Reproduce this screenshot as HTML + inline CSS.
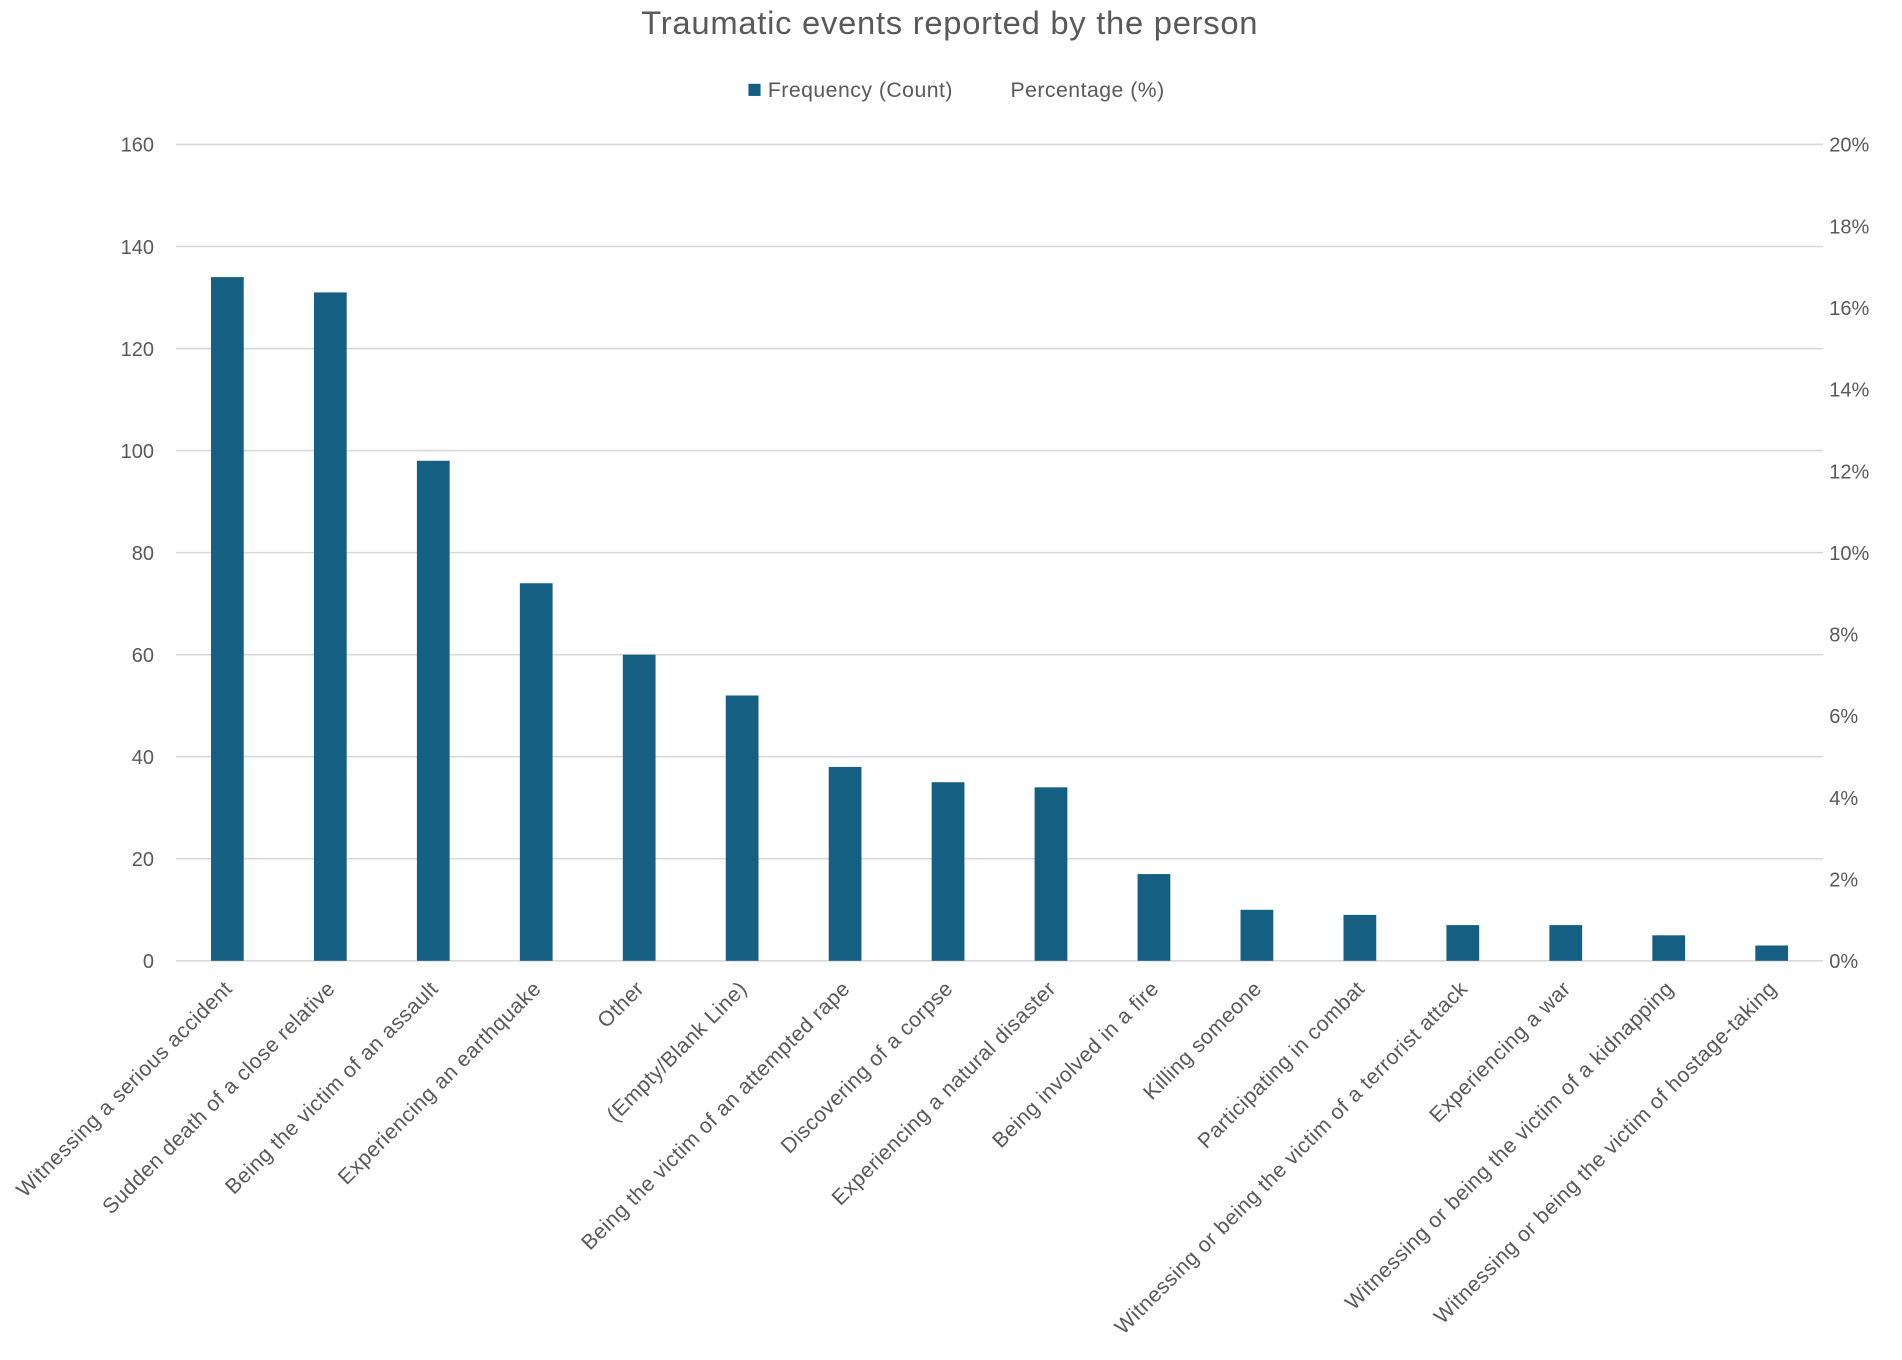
<!DOCTYPE html>
<html><head><meta charset="utf-8"><style>
html,body{margin:0;padding:0;background:#fff;}
svg{display:block;font-family:"Liberation Sans",Arial,sans-serif;}
</style></head><body>
<svg id="chart" width="1902" height="1360" viewBox="0 0 1568 1121" xmlns="http://www.w3.org/2000/svg">
<rect width="1568" height="1121" fill="#fff"/>
<text x="783" y="28" text-anchor="middle" font-size="27" letter-spacing="0.6" fill="#595959">Traumatic events reported by the person</text>
<g>
<rect x="617" y="69" width="10" height="10" fill="#156082"/>
<text x="633" y="80" font-size="17.5" letter-spacing="0.4" fill="#595959">Frequency (Count)</text>
<text x="833" y="80" font-size="17.5" letter-spacing="0.4" fill="#595959">Percentage (%)</text>
</g>
<g id="grid"></g><g id="bars"></g><g id="labels"></g>
</svg>
<script>
const categories=["Witnessing a serious accident","Sudden death of a close relative","Being the victim of an assault","Experiencing an earthquake","Other","(Empty/Blank Line)","Being the victim of an attempted rape","Discovering of a corpse","Experiencing a natural disaster","Being involved in a fire","Killing someone","Participating in combat","Witnessing or being the victim of a terrorist attack","Experiencing a war","Witnessing or being the victim of a kidnapping","Witnessing or being the victim of hostage-taking"];
const frequency=[134,131,98,74,60,52,38,35,34,17,10,9,7,7,5,3];
const leftTicks=[0,20,40,60,80,100,120,140,160];
const rightTicks=["0%","2%","4%","6%","8%","10%","12%","14%","16%","18%","20%"];
const NS="http://www.w3.org/2000/svg";
const x0=145,x1=1503,yTop=119,yBot=792,yMax=160;
const y=v=>yBot-(v/yMax)*(yBot-yTop);
const band=(x1-x0)/categories.length;
const xc=i=>x0+band*(i+0.5);
function mk(t,a,p){const e=document.createElementNS(NS,t);for(const k in a)e.setAttribute(k,a[k]);p.appendChild(e);return e;}
const grid=document.getElementById('grid'),bars=document.getElementById('bars'),labels=document.getElementById('labels');
leftTicks.forEach(v=>{
  const l=mk('line',{x1:x0,x2:x1,y1:y(v),y2:y(v),stroke:'#d9d9d9','stroke-width':1.3},grid);
  
  
  const t=mk('text',{x:127,y:y(v)+6,'text-anchor':'end','font-size':16.5,fill:'#595959'},grid);
  t.textContent=v;
  
  
});
rightTicks.forEach((s,i)=>{
  const yy=yBot-i/(rightTicks.length-1)*(yBot-yTop);
  const t=mk('text',{x:1508,y:yy+6,'font-size':16.5,fill:'#595959'},grid);
  t.textContent=s;
  
  
});
frequency.forEach((v,i)=>{
  const r=mk('rect',{x:xc(i)-13.5,y:y(v),width:27,height:yBot-y(v),fill:'#156082'},bars);
  
  
});
categories.forEach((c,i)=>{
  const tx=xc(i)+5,ty=816;
  const t=mk('text',{x:tx,y:ty,'text-anchor':'end','font-size':17.5,'letter-spacing':0.4,fill:'#595959',transform:`rotate(-45 ${tx} ${ty})`},labels);
  t.textContent=c;
  
  
});
</script>
</body></html>
